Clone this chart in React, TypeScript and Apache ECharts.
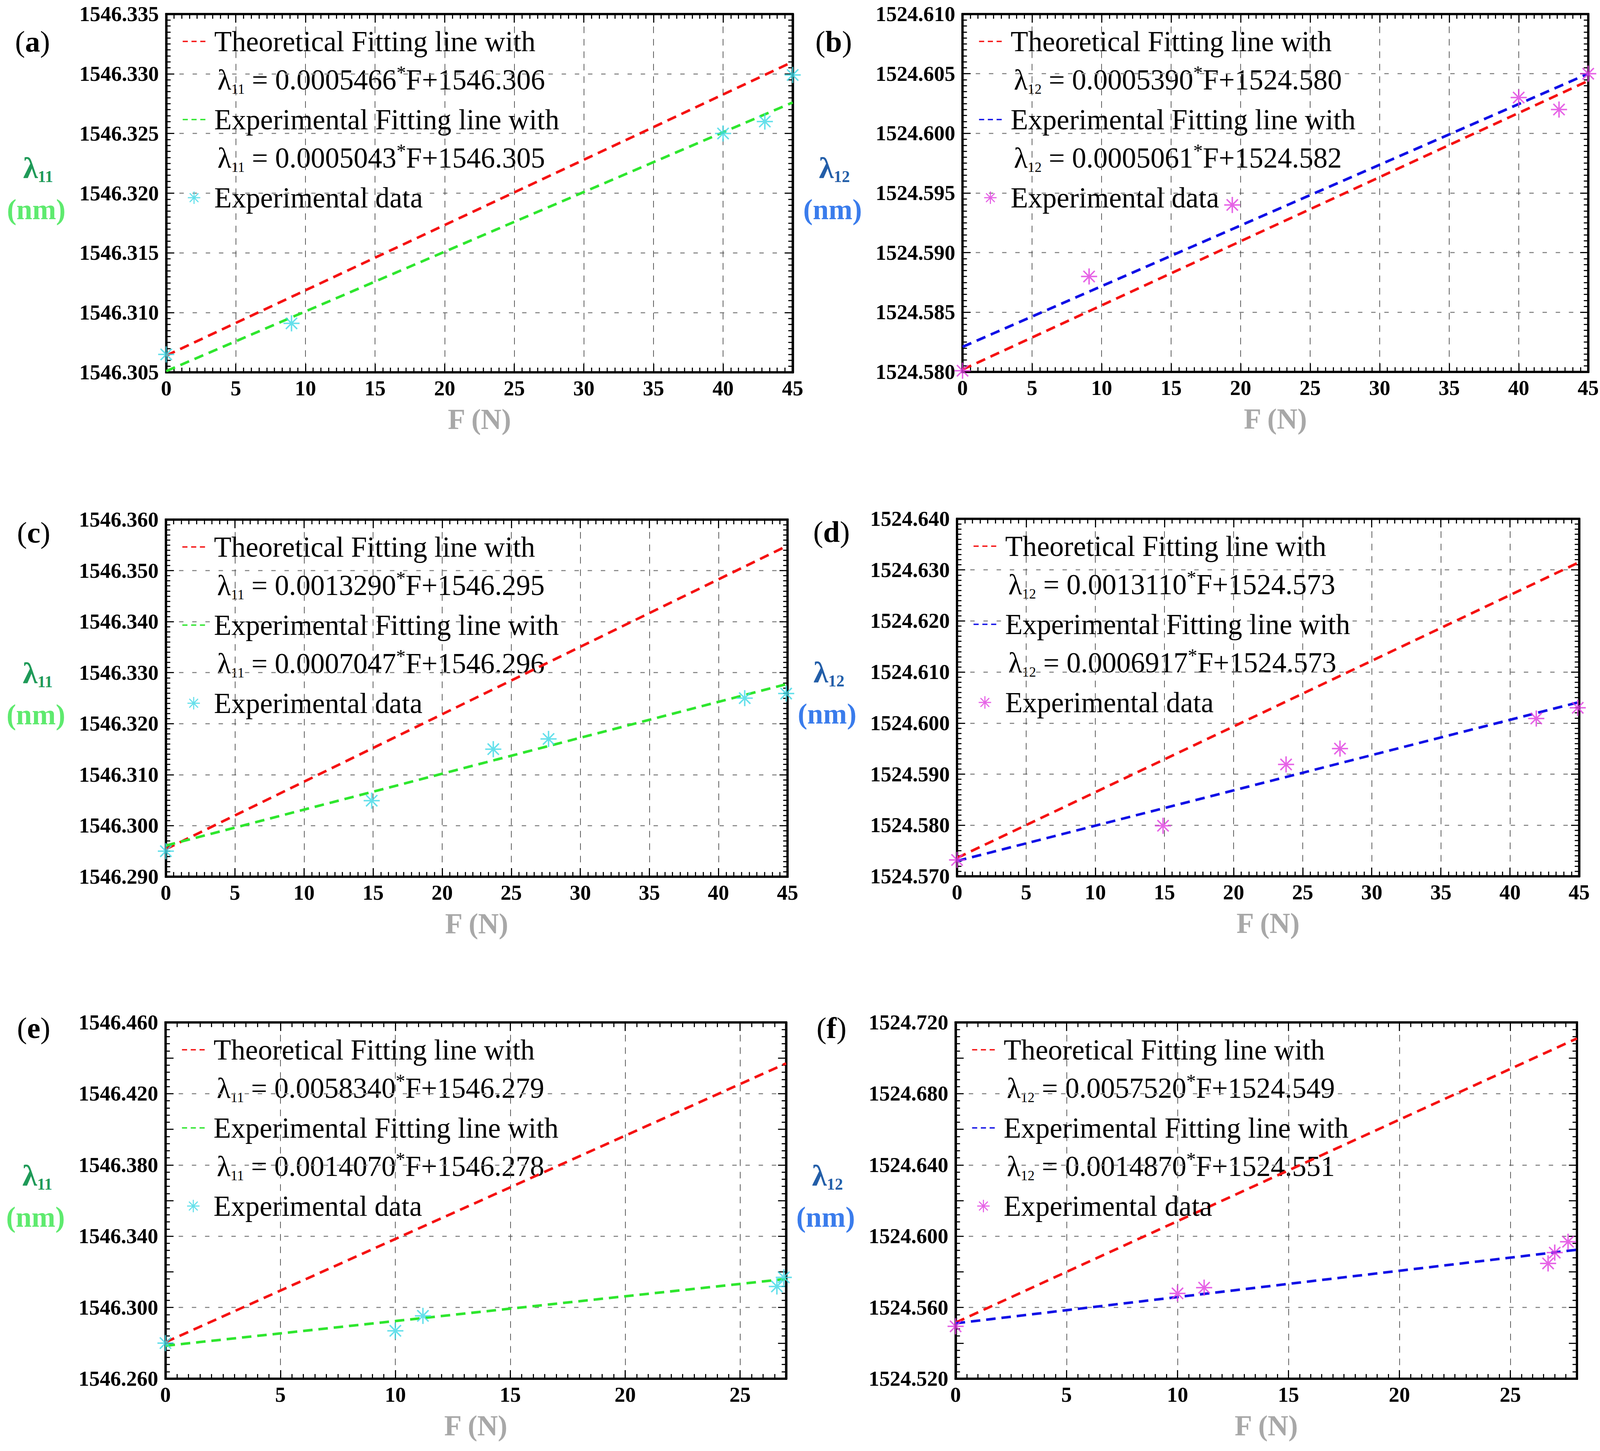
import React, { useEffect, useRef, useState } from 'react';
import * as echarts from 'echarts';

const SERIF = "'Liberation Serif', 'Times New Roman', serif";

// ---------- data ----------
const panelIds = ['a', 'b', 'c', 'd', 'e', 'f'];
const lambdaSub = ['11', '12', '11', '12', '11', '12'];

const dataXA = [0, 9, 40, 43, 45];
const dataYA = [1546.3065, 1546.3091, 1546.325, 1546.326, 1546.3299];
const dataXB = [0, 9.1, 19.4, 40, 42.9, 45];
const dataYB = [1524.5801, 1524.588, 1524.594, 1524.603, 1524.602, 1524.605];
const dataXC = [0, 14.9, 23.7, 27.7, 41.9, 44.9];
const dataYC = [1546.295, 1546.3049, 1546.315, 1546.317, 1546.325, 1546.3259];
const dataXD = [0, 14.9, 23.8, 27.7, 41.9, 44.9];
const dataYD = [1524.5732, 1524.5799, 1524.5919, 1524.595, 1524.6009, 1524.603];
const dataXE = [0, 10, 11.2, 26.6, 26.9];
const dataYE = [1546.28, 1546.2869, 1546.2953, 1546.3118, 1546.3169];
const dataXF = [0, 10, 11.2, 26.7, 27.0, 27.6];
const dataYF = [1524.5494, 1524.5679, 1524.5711, 1524.5847, 1524.5908, 1524.5969];

const theoryA = [[0, 1546.3064], [45, 1546.331]];
const fitA = [[0, 1546.3051], [45, 1546.3276]];
const theoryB = [[0, 1524.5802], [45, 1524.6044]];
const fitB = [[0, 1524.5821], [45, 1524.605]];
const theoryC = [[0, 1546.2954], [45, 1546.3549]];
const fitC = [[0, 1546.2961], [45, 1546.3278]];
const theoryD = [[0, 1524.5736], [45, 1524.6315]];
const fitD = [[0, 1524.573], [45, 1524.6041]];
const theoryE = [[0, 1546.2805], [27, 1546.437]];
const fitE = [[0, 1546.2785], [27, 1546.316]];
const theoryF = [[0, 1524.5515], [28, 1524.711]];
const fitF = [[0, 1524.5511], [28, 1524.5924]];

const slopeTheory = ['0.0005466', '0.0005390', '0.0013290', '0.0013110', '0.0058340', '0.0057520'];
const interceptTheory = ['1546.306', '1524.580', '1546.295', '1524.573', '1546.279', '1524.549'];
const slopeFit = ['0.0005043', '0.0005061', '0.0007047', '0.0006917', '0.0014070', '0.0014870'];
const interceptFit = ['1546.305', '1524.582', '1546.296', '1524.573', '1546.278', '1524.551'];

const yMin = [1546.305, 1524.58, 1546.29, 1524.57, 1546.26, 1524.52];
const yMax = [1546.335, 1524.61, 1546.36, 1524.64, 1546.46, 1524.72];
const yLabelStep = [0.005, 0.005, 0.01, 0.01, 0.04, 0.04];
const yTickStep = [0.005, 0.005, 0.01, 0.01, 0.02, 0.02];
const yMinorSplit = [10, 10, 10, 10, 5, 5];
const xMax = [45, 45, 45, 45, 27, 28];
const xLabelStep = 5;
const xMinorStep = [5 / 9, 5 / 9, 5 / 9, 5 / 9, 0.5, 0.5];

const legendNames: Record<string, string> = {
  th: 'Theoretical Fitting line with',
  fit: 'Experimental Fitting line with',
  data: 'Experimental data',
};
const xName = 'F (N)';

const dataX = [dataXA, dataXB, dataXC, dataXD, dataXE, dataXF];
const dataY = [dataYA, dataYB, dataYC, dataYD, dataYE, dataYF];
const theory = [theoryA, theoryB, theoryC, theoryD, theoryE, theoryF];
const fit = [fitA, fitB, fitC, fitD, fitE, fitF];

// ---------- layout / style (design pixels, 4370 x 3714) ----------
const DESIGN_W = 4370;
const DESIGN_H = 3714;
const grids = [
  { left: 454, top: 36, width: 1711, height: 917 },
  { left: 2629, top: 36, width: 1719, height: 916 },
  { left: 453, top: 1330, width: 1698, height: 914 },
  { left: 2614, top: 1328, width: 1699, height: 915 },
  { left: 452, top: 2617, width: 1695, height: 912 },
  { left: 2610, top: 2617, width: 1697, height: 912 },
];
const panelLabelPos = [[89, 106], [2277, 106], [92, 1363], [2271, 1361], [92, 2631], [2271, 2631]];

const RED = '#f51212';
const GREEN = '#2ee62e';
const BLUE = '#1010e6';
const CYAN = '#3ed8e6';
const MAGENTA = '#e03ce0';
const fitColors = [GREEN, BLUE, GREEN, BLUE, GREEN, BLUE];
const markColors = [CYAN, MAGENTA, CYAN, MAGENTA, CYAN, MAGENTA];
const lamColors = ['#1f9a58', '#235ea8', '#1f9a58', '#235ea8', '#1f9a58', '#235ea8'];
const nmColors = ['#5eea6e', '#3a7cec', '#5eea6e', '#3a7cec', '#5eea6e', '#3a7cec'];

const ASTERISK = 'path://M10 0L10 20M0 10L20 10M3 3L17 17M3 17L17 3';
const DASH_ICON = 'path://M0 0H14V4H0Z M24 0H38V4H24Z M48 0H62V4H48Z';

function buildOption(sx: number, sy: number) {
  const px = (v: number) => v * sx;
  const py = (v: number) => v * sy;
  const sf = Math.min(sx, sy);
  const f = (v: number) => v * sf;
  const xAxis: any[] = [];
  const yAxis: any[] = [];
  const series: any[] = [];
  const legend: any[] = [];
  const graphic: any[] = [];

  grids.forEach((g0, i) => {
    const g = { left: px(g0.left), top: py(g0.top), width: px(g0.width), height: py(g0.height) };
    const id = panelIds[i];
    const tickBase = { color: '#000', width: f(3) };
    xAxis.push({
      type: 'value', gridIndex: i, position: 'bottom', min: 0, max: xMax[i], interval: xLabelStep,
      axisLine: { show: true, onZero: false, lineStyle: { color: '#000', width: f(6) } },
      axisTick: { show: true, inside: true, length: py(22), lineStyle: tickBase },
      axisLabel: {
        show: true, margin: py(14), fontSize: f(58), fontWeight: 'bold', color: '#000', fontFamily: SERIF,
        showMinLabel: true, showMaxLabel: xMax[i] % xLabelStep === 0,
      },
      splitLine: { show: true, lineStyle: { color: '#555', width: f(2), type: [f(18), f(16)] } },
      name: xName, nameLocation: 'middle', nameGap: py(120),
      nameTextStyle: { fontSize: f(78), fontWeight: 'bold', color: '#a8a8a8', fontFamily: SERIF, verticalAlign: 'middle' },
    });
    xAxis.push({
      type: 'value', gridIndex: i, position: 'bottom', min: 0, max: xMax[i], interval: xMinorStep[i],
      axisLine: { show: false, onZero: false },
      axisTick: { show: true, inside: true, length: py(12), lineStyle: tickBase },
      axisLabel: { show: false }, splitLine: { show: false },
    });
    xAxis.push({
      type: 'value', gridIndex: i, position: 'top', min: 0, max: xMax[i], interval: xLabelStep,
      axisLine: { show: true, onZero: false, lineStyle: { color: '#000', width: f(6) } },
      axisTick: { show: true, inside: true, length: py(22), lineStyle: tickBase },
      axisLabel: { show: false }, splitLine: { show: false },
    });
    xAxis.push({
      type: 'value', gridIndex: i, position: 'top', min: 0, max: xMax[i], interval: xMinorStep[i],
      axisLine: { show: false, onZero: false },
      axisTick: { show: true, inside: true, length: py(12), lineStyle: tickBase },
      axisLabel: { show: false }, splitLine: { show: false },
    });
    yAxis.push({
      type: 'value', gridIndex: i, position: 'left', min: yMin[i], max: yMax[i], interval: yLabelStep[i],
      axisLine: { show: true, onZero: false, lineStyle: { color: '#000', width: f(6) } },
      axisTick: { show: false },
      axisLabel: {
        show: true, margin: px(20), fontSize: f(58), fontWeight: 'bold', color: '#000', fontFamily: SERIF,
        showMinLabel: true, showMaxLabel: true, formatter: (v: number) => v.toFixed(3),
      },
      splitLine: { show: true, lineStyle: { color: '#8f8f8f', width: f(3), type: [f(12), f(24)] } },
    });
    ['left', 'right'].forEach((pos) => {
      yAxis.push({
        type: 'value', gridIndex: i, position: pos, min: yMin[i], max: yMax[i], interval: yTickStep[i],
        axisLine: { show: true, onZero: false, lineStyle: { color: '#000', width: f(6) } },
        axisTick: { show: true, inside: true, length: px(22), lineStyle: tickBase },
        minorTick: { show: true, splitNumber: yMinorSplit[i], length: px(12), lineStyle: tickBase },
        axisLabel: { show: false }, splitLine: { show: false }, minorSplitLine: { show: false },
      });
    });

    const xi = i * 4;
    const yi = i * 3;
    series.push({
      type: 'line', name: `${id}-th`, xAxisIndex: xi, yAxisIndex: yi, data: theory[i], symbol: 'none',
      lineStyle: { color: RED, width: f(7), type: [f(26), f(16)] }, itemStyle: { color: RED }, z: 3, silent: true,
    });
    series.push({
      type: 'line', name: `${id}-fit`, xAxisIndex: xi, yAxisIndex: yi, data: fit[i], symbol: 'none',
      lineStyle: { color: fitColors[i], width: f(7), type: [f(26), f(16)] }, itemStyle: { color: fitColors[i] }, z: 3, silent: true,
    });
    series.push({
      type: 'scatter', name: `${id}-data`, xAxisIndex: xi, yAxisIndex: yi,
      data: dataX[i].map((x, k) => [x, dataY[i][k]]),
      symbol: ASTERISK, symbolSize: f(44), clip: false,
      itemStyle: { color: markColors[i], borderColor: markColors[i], borderWidth: f(4) }, z: 4, silent: true,
    });

    legend.push({
      orient: 'vertical', left: g.left + px(45), top: g.top + py(20), padding: 0, itemGap: py(100),
      itemWidth: px(62), itemHeight: f(34), selectedMode: false,
      textStyle: { fontFamily: SERIF, fontSize: f(78), color: '#000', lineHeight: py(100), padding: [0, 0, 0, px(19)] },
      formatter: (name: string) => legendNames[name.split('-')[1]],
      data: [
        { name: `${id}-th`, icon: DASH_ICON, itemStyle: { color: RED, borderWidth: 0 } },
        { name: `${id}-fit`, icon: DASH_ICON, itemStyle: { color: fitColors[i], borderWidth: 0 } },
        { name: `${id}-data`, itemStyle: { borderWidth: f(3) } },
      ],
    });

    graphic.push({
      type: 'text', x: px(panelLabelPos[i][0]), y: py(panelLabelPos[i][1]),
      style: {
        text: `{p|(}{b|${id}}{p|)}`, align: 'center', verticalAlign: 'middle',
        rich: {
          p: { fontSize: f(82), fontFamily: SERIF, fill: '#000' },
          b: { fontSize: f(82), fontFamily: SERIF, fontWeight: 'bold', fill: '#000' },
        },
      },
    });
    const midY = g.top + g.height / 2;
    graphic.push({
      type: 'text', x: g.left - px(350), y: midY - py(64),
      style: {
        text: `{l|λ}{s|${lambdaSub[i]}}`, align: 'center', verticalAlign: 'middle',
        rich: {
          l: { fontSize: f(82), lineHeight: f(90), fontFamily: SERIF, fontWeight: 'bold', fill: lamColors[i] },
          s: { fontSize: f(44), lineHeight: f(44), verticalAlign: 'bottom', fontFamily: SERIF, fontWeight: 'bold', fill: lamColors[i] },
        },
      },
    });
    graphic.push({
      type: 'text', x: g.left - px(355), y: midY + py(42),
      style: { text: '(nm)', align: 'center', verticalAlign: 'middle', fontSize: f(78), fontFamily: SERIF, fontWeight: 'bold', fill: nmColors[i] },
    });
    const eqRich = {
      l: { fontSize: f(78), lineHeight: f(90), fontFamily: SERIF, fill: '#000' },
      s: { fontSize: f(38), lineHeight: f(38), verticalAlign: 'bottom', fontFamily: SERIF, fill: '#000' },
      t: { fontSize: f(78), lineHeight: f(90), fontFamily: SERIF, fill: '#000' },
      u: { fontSize: f(52), lineHeight: f(52), verticalAlign: 'top', fontFamily: SERIF, fill: '#000' },
    };
    const eqs: [string, string, number][] = [
      [slopeTheory[i], interceptTheory[i], 168],
      [slopeFit[i], interceptFit[i], 368],
    ];
    eqs.forEach(([sl, ic, dy]) => {
      graphic.push({
        type: 'text', x: g.left + px(140), y: g.top + py(dy),
        style: {
          text: `{l|λ}{s|${lambdaSub[i]}}{t| = ${sl}}{u|*}{t|F+${ic}}`,
          align: 'left', verticalAlign: 'middle', rich: eqRich,
        },
      });
    });
  });

  return {
    animation: false,
    backgroundColor: '#ffffff',
    textStyle: { fontFamily: SERIF },
    grid: grids.map((g) => ({
      left: px(g.left), top: py(g.top), width: px(g.width), height: py(g.height),
      show: true, borderColor: '#000', borderWidth: f(6), backgroundColor: 'transparent',
    })),
    xAxis,
    yAxis,
    legend,
    series,
    graphic,
  };
}

function getViewport() {
  const de = document.documentElement;
  const w = (de && de.clientWidth) || window.innerWidth || DESIGN_W;
  const h = (de && de.clientHeight) || window.innerHeight || DESIGN_H;
  return { w: Math.min(w, DESIGN_W), h: Math.min(h, DESIGN_H) };
}

export default function App() {
  const ref = useRef<HTMLDivElement>(null);
  const [vp] = useState(getViewport);
  useEffect(() => {
    const chart = echarts.init(ref.current as HTMLDivElement, null, { renderer: 'svg' });
    chart.setOption(buildOption(vp.w / DESIGN_W, vp.h / DESIGN_H) as any);
    return () => chart.dispose();
  }, [vp]);
  return (
    <div
      ref={ref}
      style={{ position: 'absolute', left: 0, top: 0, width: vp.w, height: vp.h, background: '#fff' }}
    />
  );
}
